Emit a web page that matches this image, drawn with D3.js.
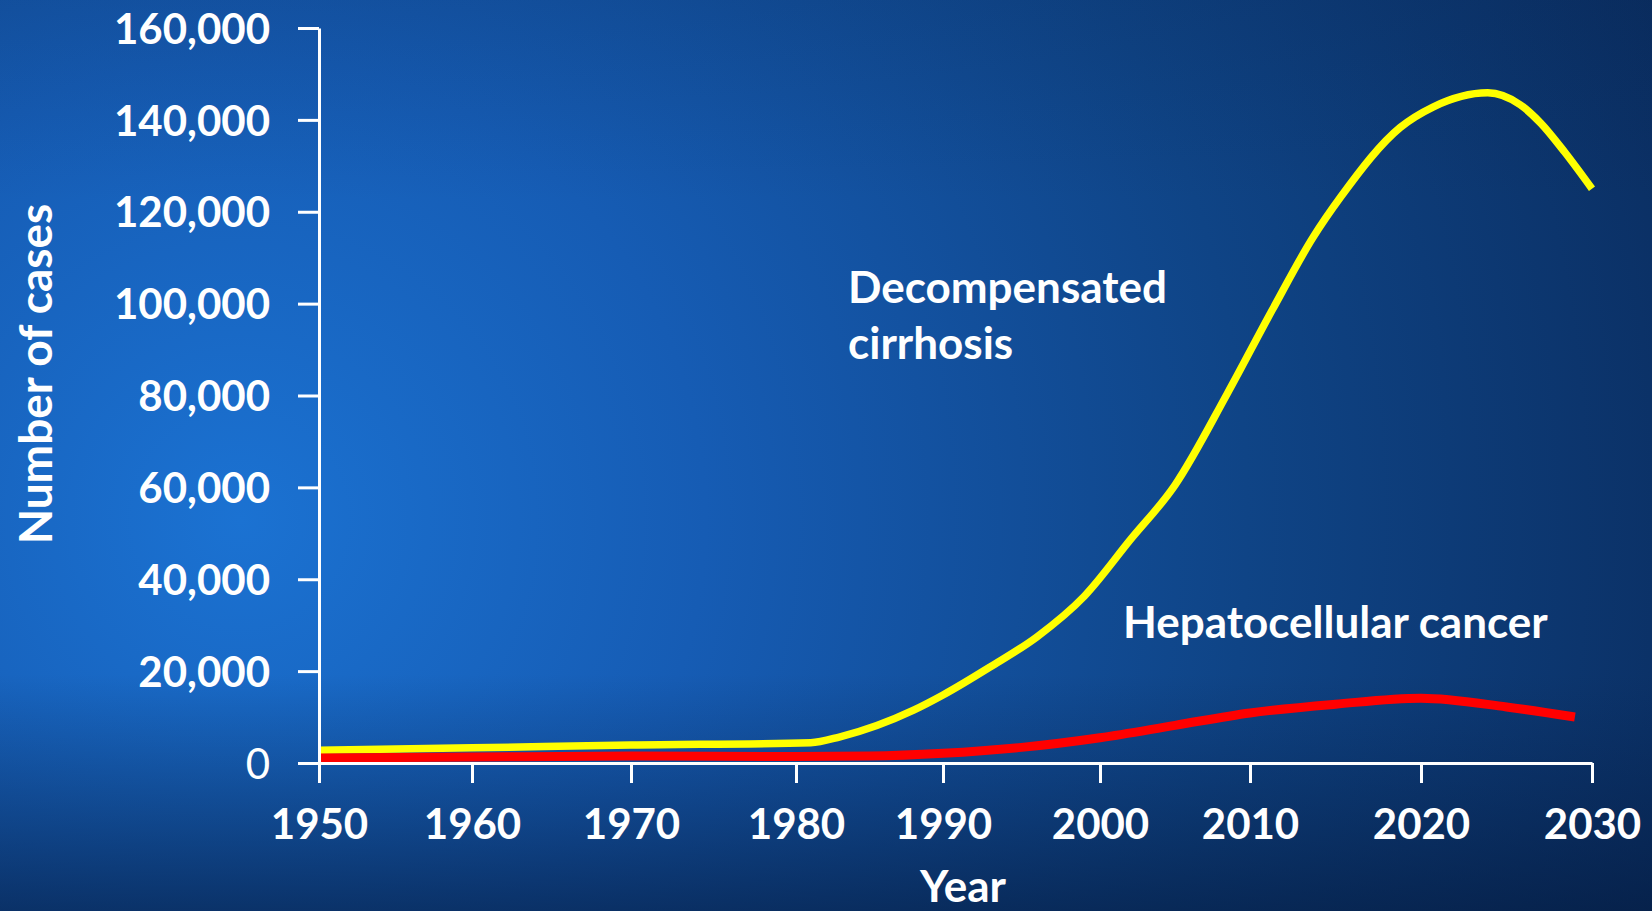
<!DOCTYPE html>
<html>
<head>
<meta charset="utf-8">
<script src="https://cdn.jsdelivr.net/npm/d3@7"></script>
<style>
  html, body { margin: 0; padding: 0; background: #0b2c5e; }
  svg { display: block; }
  text { font-family: Lato, "Open Sans", sans-serif; font-weight: 700; fill: #fff; }
</style>
</head>
<body>
<svg id="chart" width="1652" height="911"></svg>
<script>
// Data (number of cases by year)
const yearTicks = [1950, 1960, 1970, 1980, 1990, 2000, 2010, 2020, 2030];
const caseTicks = [0, 20000, 40000, 60000, 80000, 100000, 120000, 140000, 160000];

const cirrhosisYears  = [1950, 1960, 1970, 1981, 1983, 1988, 1990, 1993, 1996, 1999, 2002, 2005, 2008.5, 2011.3, 2013.7, 2015.3, 2018.8, 2020.7, 2023.9, 2025.8, 2027, 2028.4, 2030];
const cirrhosisValues = [2800, 3300, 3900, 4400, 5700, 11500, 14800, 20900, 27500, 36300, 48500, 60500, 80500, 98600, 114500, 123200, 138400, 142800, 145900, 143300, 139300, 133000, 125000];

const hccYears  = [1950, 1960, 1970, 1980, 1985, 1990, 1995, 2000, 2005, 2010, 2015, 2020, 2025, 2029];
const hccValues = [1100, 1300, 1500, 1400, 1500, 2100, 3400, 5500, 8200, 10900, 12800, 14100, 12200, 10000];

const seriesLabels = ['Decompensated', 'cirrhosis'];
const hccLabel = 'Hepatocellular cancer';

// Layout
const svg = d3.select('#chart');
const W = 1652, H = 911;
const plotLeft = 319, plotBottom = 763, plotTop = 28;
// the slide's year axis is spaced a bit unevenly, so the scale follows its tick marks
const xTickPx = [319, 472, 631, 796, 943, 1100, 1250, 1421, 1592];

const x = d3.scaleLinear().domain(yearTicks).range(xTickPx);
const y = d3.scaleLinear().domain([0, 160000]).range([plotBottom, plotTop]);

// Background: blue slide gradient, lighter on the left, darker to the top-right and bottom
const defs = svg.append('defs');
const rg = defs.append('radialGradient')
  .attr('id', 'bg')
  .attr('gradientUnits', 'userSpaceOnUse')
  .attr('cx', 240).attr('cy', 520).attr('r', 1550);
rg.append('stop').attr('offset', '0%').attr('stop-color', '#1b72d2');
rg.append('stop').attr('offset', '30%').attr('stop-color', '#165cb4');
rg.append('stop').attr('offset', '65%').attr('stop-color', '#0f4486');
rg.append('stop').attr('offset', '100%').attr('stop-color', '#0a2c5e');

const shade = defs.append('linearGradient')
  .attr('id', 'shade').attr('x1', 0).attr('y1', 0).attr('x2', 0).attr('y2', 1);
shade.append('stop').attr('offset', '0%').attr('stop-color', '#06204a').attr('stop-opacity', 0.15);
shade.append('stop').attr('offset', '22%').attr('stop-color', '#06204a').attr('stop-opacity', 0);
shade.append('stop').attr('offset', '74%').attr('stop-color', '#06204a').attr('stop-opacity', 0);
shade.append('stop').attr('offset', '100%').attr('stop-color', '#041a3e').attr('stop-opacity', 0.65);

svg.append('rect').attr('width', W).attr('height', H).attr('fill', 'url(#bg)');
svg.append('rect').attr('width', W).attr('height', H).attr('fill', 'url(#shade)');

// Lines
const line = d3.line()
  .x(d => x(d[0]))
  .y(d => y(d[1]))
  .curve(d3.curveMonotoneX);

svg.append('path')
  .datum(d3.zip(cirrhosisYears, cirrhosisValues))
  .attr('d', line)
  .attr('fill', 'none')
  .attr('stroke', '#ffff00')
  .attr('stroke-width', 7.5)
  .attr('stroke-linejoin', 'round');

svg.append('path')
  .datum(d3.zip(hccYears, hccValues))
  .attr('d', line)
  .attr('fill', 'none')
  .attr('stroke', '#ff0000')
  .attr('stroke-width', 9)
  .attr('stroke-linejoin', 'round');

// Axes
const xAxis = svg.append('g')
  .attr('transform', `translate(0,${plotBottom})`)
  .call(d3.axisBottom(x).tickValues(yearTicks).tickFormat(d3.format('d'))
    .tickSize(20).tickSizeOuter(0).tickPadding(26));

const yAxis = svg.append('g')
  .attr('transform', `translate(${plotLeft},0)`)
  .call(d3.axisLeft(y).tickValues(caseTicks).tickFormat(d3.format(','))
    .tickSize(21).tickSizeOuter(0).tickPadding(28));

[xAxis, yAxis].forEach(g => {
  g.select('.domain').attr('stroke', '#fff').attr('stroke-width', 3);
  g.selectAll('.tick line').attr('stroke', '#fff').attr('stroke-width', 3);
  g.selectAll('.tick text')
    .attr('fill', '#fff')
    .style('font-family', 'Lato, "Open Sans", sans-serif')
    .style('font-weight', 700)
    .style('font-size', '42px');
});
yAxis.selectAll('.tick text').attr('dy', '0.36em');
// the zero label is set in the lighter weight on the slide
yAxis.selectAll('.tick text').filter(d => d === 0).style('font-weight', 400);

// Axis titles
svg.append('text')
  .attr('x', 963).attr('y', 902)
  .attr('text-anchor', 'middle')
  .style('font-size', '44px')
  .text('Year');

svg.append('text')
  .attr('transform', 'translate(52,374) rotate(-90)')
  .attr('text-anchor', 'middle')
  .style('font-size', '46px')
  .text('Number of cases');

// Series labels
svg.append('text')
  .attr('x', 848).attr('y', 303)
  .style('font-size', '44px')
  .selectAll('tspan')
  .data(seriesLabels)
  .join('tspan')
  .attr('x', 848)
  .attr('dy', (d, i) => i === 0 ? 0 : 56)
  .text(d => d);

svg.append('text')
  .attr('x', 1123).attr('y', 638)
  .style('font-size', '44px')
  .text(hccLabel);
</script>
</body>
</html>
